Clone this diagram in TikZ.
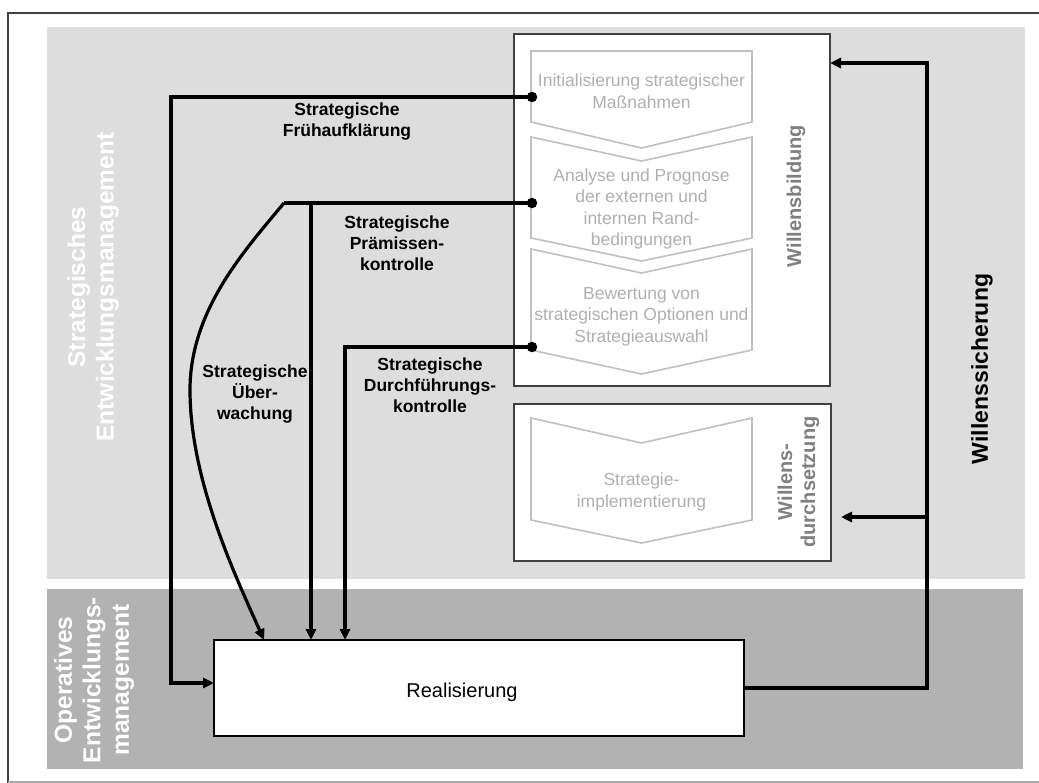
\documentclass[tikz,border=0pt]{standalone}
\usepackage{fontspec}
\setmainfont{Liberation Sans}
\usetikzlibrary{arrows.meta,calc}

\definecolor{stratbg}{HTML}{DDDDDD}
\definecolor{opbg}{HTML}{B2B2B2}
\definecolor{chevline}{HTML}{C0C0C0}
\definecolor{chevtext}{HTML}{B0B0B0}
\definecolor{phaselabel}{HTML}{808080}
\definecolor{boxline}{HTML}{404040}
\definecolor{frametop}{HTML}{404040}
\definecolor{framebot}{HTML}{A8A8A8}

\begin{document}
\begin{tikzpicture}[x=1pt,y=-1pt,
  conn/.style={line width=3.2pt, black},
  arr/.style={-{Triangle[length=11pt,width=10pt]}},
  phasebox/.style={draw=boxline, line width=1.3pt, fill=white, inner sep=0pt, outer sep=0pt},
  realbox/.style={draw=black, line width=2.4pt, fill=white, inner sep=0pt, outer sep=0pt},
  chevron/.style={draw=chevline, line width=1.6pt},
  stepfont/.style={text=chevtext, align=center, inner sep=0pt, font=\fontsize{17.5}{21.5}\selectfont},
  ctrl/.style={align=center, inner sep=0pt, font=\bfseries\fontsize{17.5}{21}\selectfont},
  arealabel/.style={text=white, rotate=90, align=center, inner sep=0pt, font=\bfseries\fontsize{24.5}{28.5}\selectfont},
  phasetitle/.style={text=phaselabel, rotate=90, align=center, inner sep=0pt, font=\bfseries\fontsize{20}{23}\selectfont},
  dot/.style={circle, fill=black, inner sep=0pt, minimum size=10.5pt},
]
\useasboundingbox (0,0) rectangle (1039,783);

% outer frame
\draw[frametop, line width=1.2pt] (8,783) -- (8,13) -- (1045,13);
\draw[framebot, line width=1.2pt] (8,782) -- (1045,782);

% management levels
\fill[stratbg] (47,27) rectangle (1025,579);
\fill[opbg] (47,589) rectangle (1023,769);
\node[arealabel] (strat) at (93,287) {Strategisches\\Entwicklungsmanagement};
\node[arealabel] (oper) at (94,680) {Operatives\\Entwicklungs-\\management};

% phase boxes
\node[phasebox, minimum width=316pt, minimum height=352pt] (wb) at (672,210) {};
\node[phasebox, minimum width=317pt, minimum height=157pt] (wd) at (672.5,482.5) {};
\node[phasetitle] (wbt) at (796,196) {Willensbildung};
\node[phasetitle] (wdt) at (798.5,482) {Willens-\\durchsetzung};

% process steps
\draw[chevron] (531,51) -- (752,51) -- (752,122) -- (641.5,148) -- (531,122) -- cycle;
\draw[chevron] (531,137) -- (641.5,161) -- (752,137) -- (752,238) -- (641.5,261) -- (531,238) -- cycle;
\draw[chevron] (531,249) -- (641.5,273) -- (752,249) -- (752,350) -- (641.5,374) -- (531,350) -- cycle;
\draw[chevron] (531,418) -- (641.5,443) -- (752,418) -- (752,520) -- (641.5,543) -- (531,520) -- cycle;
\node[stepfont] (s1) at (641.5,91) {Initialisierung strategischer\\Maßnahmen};
\node[stepfont] (s2) at (641.5,209) {Analyse und Prognose\\der externen und\\internen Rand-\\bedingungen};
\node[stepfont] (s3) at (641.5,316.5) {Bewertung von\\strategischen Optionen und\\Strategieauswahl};
\node[stepfont] (s4) at (641.5,492) {Strategie-\\implementierung};

% realisation
\node[realbox, minimum width=530pt, minimum height=96pt] (real) at (479,688) {};
\node[inner sep=0pt, font=\fontsize{20}{24}\selectfont] (realt) at (462,692) {Realisierung};

% control labels
\node[ctrl] (lf) at (347,121.5) {Strategische\\Frühaufklärung};
\node[ctrl] (lp) at (397,243) {Strategische\\Prämissen-\\kontrolle};
\node[ctrl] (lu) at (255,394) {Strategische\\Über-\\wachung};
\node[ctrl] (ld) at (430,385) {Strategische\\Durchführungs-\\kontrolle};
\node[rotate=90, inner sep=0pt, font=\bfseries\fontsize{23}{27}\selectfont] (ls) at (982,369) {Willenssicherung};

% connection points on the steps
\node[dot] (d1) at (532,97) {};
\node[dot] (d2) at (532,203) {};
\node[dot] (d3) at (532,347) {};

% corner points of the loops
\coordinate (f2) at (171,683);
\coordinate (u0) at (284,203);
\coordinate (p1) at (311,203);
\coordinate (q1) at (345,347);
\coordinate (w0) at (927,63);
\coordinate (w2) at (927,517);

% early warning
\draw[conn, arr] (d1.center) -| (f2) -- (f2 -| real.west);
% premise control and surveillance
\draw[conn] (d2.center) -- (u0);
\draw[conn, arr] (p1) -- (p1 |- real.north);
\draw[conn, arr] (u0) .. controls (245,250) and (190,310) .. (190,390)
  .. controls (190,480) and (235,575) .. (264,640);
% implementation control
\draw[conn, arr] (d3.center) -- (q1) -- (q1 |- real.north);
% feedback of the realisation
\draw[conn, arr] (real.east) -| (w0) -- (w0 -| wb.east);
\draw[conn, arr] (w2) -- ($(w2 -| wd.east)+(10,0)$);
\end{tikzpicture}
\end{document}
